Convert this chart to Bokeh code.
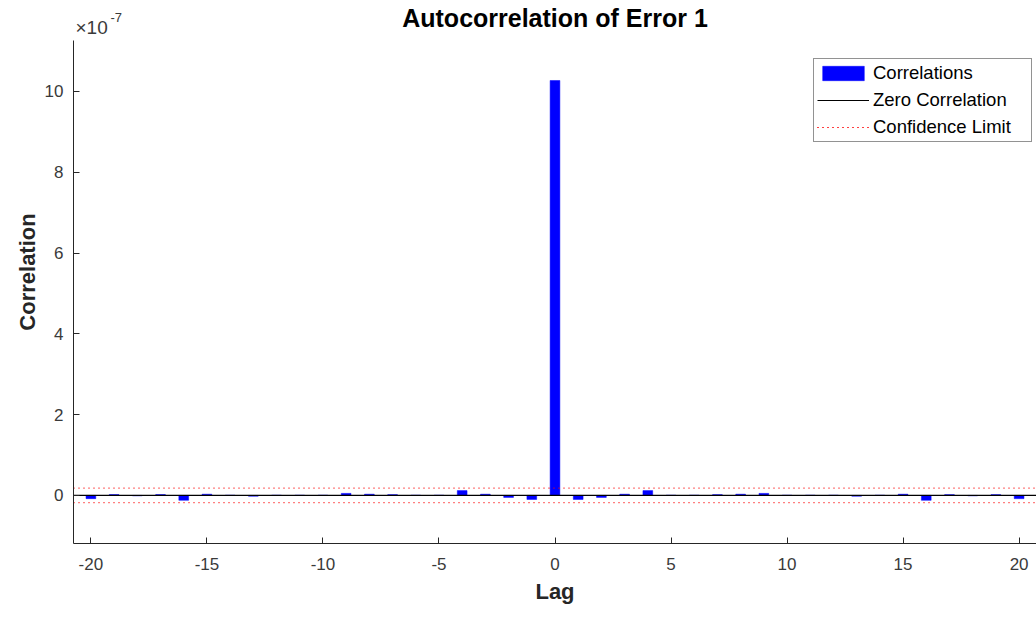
from bokeh.plotting import figure
from bokeh.models import Label, Legend, LegendItem, FixedTicker, ColumnDataSource
from bokeh.embed import file_html
from bokeh.resources import INLINE

# Data (correlation values in units of 1e-7)
lags = list(range(-20, 21))
corr_right = [10.27, -0.10, -0.05, 0.03, 0.12, 0.005, 0.005, 0.02, 0.03, 0.05,
              0.005, 0.005, 0.005, -0.02, 0.005, 0.03, -0.12, 0.02, -0.01, 0.02, -0.08]
corr = corr_right[:0:-1] + corr_right
conf_limit = 0.18
x_ticks = [-20, -15, -10, -5, 0, 5, 10, 15, 20]
y_ticks = [0, 2, 4, 6, 8, 10]
xlim = (-20.75, 20.75)
ylim = (-1.19, 11.26)      # visible axes limits
y_canvas_top = 12.25       # frame extends up to the top of the canvas (room for title)

FONT = "Liberation Sans"
AX = "#262626"

p = figure(width=1036, height=619, x_range=xlim, y_range=(ylim[0], y_canvas_top),
           output_backend="svg", toolbar_location=None,
           min_border_left=73, min_border_right=0, min_border_top=0, min_border_bottom=76)
p.title = None

p.outline_line_color = None
p.xgrid.visible = False
p.ygrid.visible = False
p.background_fill_color = "white"
p.border_fill_color = "white"

src = ColumnDataSource(dict(lag=lags, corr=corr))
bars = p.vbar(x="lag", top="corr", bottom=0, width=0.42, source=src,
              fill_color="#0000ff", line_color="#0000ff", line_width=0.5)

zero = p.line(x=list(xlim), y=[0, 0], line_color="black", line_width=1.2)
cu = p.line(x=list(xlim), y=[conf_limit, conf_limit], line_color="#ff0000",
            line_dash="1 4", line_width=1.2)
cl = p.line(x=list(xlim), y=[-conf_limit, -conf_limit], line_color="#ff0000",
            line_dash="1 4", line_width=1.2)

for ax, ticks in ((p.xaxis[0], x_ticks), (p.yaxis[0], y_ticks)):
    ax.axis_line_color = AX
    ax.major_tick_line_color = AX
    ax.major_tick_in = 6
    ax.major_tick_out = 0
    ax.minor_tick_line_color = None
    ax.major_label_text_font = FONT
    ax.major_label_text_font_size = "17px"
    ax.major_label_text_color = "#3a3a3a"
    ax.axis_label_text_font = FONT
    ax.axis_label_text_font_size = "22px"
    ax.axis_label_text_font_style = "bold"
    ax.axis_label_text_color = "#262626"
    ax.ticker = FixedTicker(ticks=ticks)
    ax.major_label_overrides = {t: str(t) for t in ticks}

p.yaxis.bounds = ylim
p.xaxis.axis_label = "Lag"
p.yaxis.axis_label = "Correlation"
p.xaxis.major_label_standoff = 14
p.xaxis.axis_label_standoff = 6
p.yaxis.major_label_standoff = 10
p.yaxis.axis_label_standoff = 2

legend = Legend(items=[
    LegendItem(label="Correlations", renderers=[bars]),
    LegendItem(label="Zero Correlation", renderers=[zero]),
    LegendItem(label="Confidence Limit", renderers=[cu, cl]),
], location=(740, 401))
legend.label_text_font = FONT
legend.label_text_font_size = "18.5px"
legend.label_text_color = "#000000"
legend.glyph_width = 52
legend.glyph_height = 18
legend.label_standoff = 4
legend.label_width = 155
legend.spacing = 5
legend.padding = 3
legend.margin = 0
legend.border_line_color = "#262626"
legend.border_line_width = 1
legend.background_fill_alpha = 1
p.add_layout(legend)

# Title, centred over the axes
p.add_layout(Label(x=0, y=526, x_units="data", y_units="screen",
                   text="Autocorrelation of Error 1", text_align="center",
                   text_baseline="alphabetic", text_font=FONT, text_font_size="25px",
                   text_font_style="bold", text_color="#000000"))
# Exponent of the y axis
p.add_layout(Label(x=2, y=516, x_units="screen", y_units="screen", text="×10",
                   text_baseline="alphabetic", text_font=FONT, text_font_size="19px",
                   text_color="#3a3a3a"))
p.add_layout(Label(x=37, y=526, x_units="screen", y_units="screen", text="-7",
                   text_baseline="alphabetic", text_font=FONT, text_font_size="13px",
                   text_color="#3a3a3a"))

open("out.html", "w").write(file_html(p, INLINE))
